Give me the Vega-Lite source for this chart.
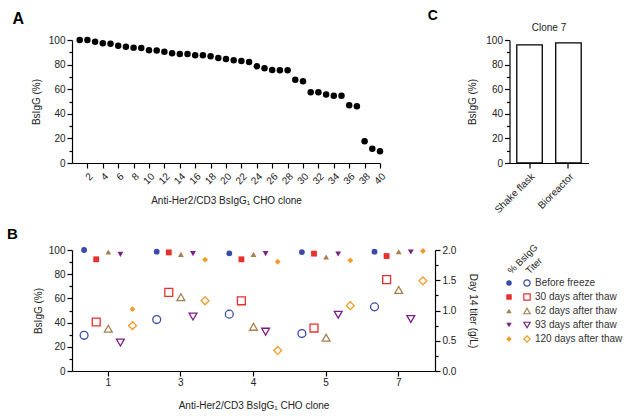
{
  "$schema": "https://vega.github.io/schema/vega-lite/v6.json",
  "background": "white",
  "padding": {"left": 7, "top": 9, "right": 5, "bottom": 5},
  "config": {
    "font": "Liberation Sans",
    "view": {"stroke": null},
    "axis": {
      "domainColor": "black", "domainWidth": 1.2, "tickColor": "black", "tickWidth": 1.2, "tickSize": 5,
      "labelFontSize": 10, "labelColor": "#222", "labelFont": "Liberation Sans",
      "titleFontSize": 10, "titleFontWeight": "normal", "titleColor": "#222", "titleFont": "Liberation Sans",
      "grid": false
    },
    "title": {"font": "Liberation Sans", "color": "black"}
  },
  "spacing": 11,
  "resolve": {"scale": {"xOffset": "independent"}},
  "vconcat": [
    {
      "spacing": 39.5,
      "hconcat": [
        {
          "title": {"text": "A", "anchor": "start", "fontSize": 16, "fontWeight": "bold", "dx": -18.7, "offset": 8},
          "width": 308,
          "height": 123,
          "data": {"values": [
            {"clone": 1, "bsigg": 100}, {"clone": 2, "bsigg": 100}, {"clone": 3, "bsigg": 98.6}, {"clone": 4, "bsigg": 97.3},
            {"clone": 5, "bsigg": 97}, {"clone": 6, "bsigg": 95.4}, {"clone": 7, "bsigg": 94.6}, {"clone": 8, "bsigg": 93.8},
            {"clone": 9, "bsigg": 93.5}, {"clone": 10, "bsigg": 91.6}, {"clone": 11, "bsigg": 91.4}, {"clone": 12, "bsigg": 90.5},
            {"clone": 13, "bsigg": 89.2}, {"clone": 14, "bsigg": 88.6}, {"clone": 15, "bsigg": 88.6}, {"clone": 16, "bsigg": 87.6},
            {"clone": 17, "bsigg": 87.6}, {"clone": 18, "bsigg": 86.8}, {"clone": 19, "bsigg": 85.4}, {"clone": 20, "bsigg": 84.6},
            {"clone": 21, "bsigg": 83.5}, {"clone": 22, "bsigg": 83}, {"clone": 23, "bsigg": 82.2}, {"clone": 24, "bsigg": 78.6},
            {"clone": 25, "bsigg": 77}, {"clone": 26, "bsigg": 75.7}, {"clone": 27, "bsigg": 75.4}, {"clone": 28, "bsigg": 75.4},
            {"clone": 29, "bsigg": 67.6}, {"clone": 30, "bsigg": 66.5}, {"clone": 31, "bsigg": 57.6}, {"clone": 32, "bsigg": 57.6},
            {"clone": 33, "bsigg": 55.7}, {"clone": 34, "bsigg": 54.6}, {"clone": 35, "bsigg": 54.6}, {"clone": 36, "bsigg": 47},
            {"clone": 37, "bsigg": 46.2}, {"clone": 38, "bsigg": 17.6}, {"clone": 39, "bsigg": 11.6}, {"clone": 40, "bsigg": 9.5}
          ]},
          "mark": {"type": "circle", "color": "black", "size": 42, "opacity": 1},
          "encoding": {
            "x": {"field": "clone", "type": "quantitative", "scale": {"domain": [0, 40], "nice": false},
              "axis": {"values": [2,4,6,8,10,12,14,16,18,20,22,24,26,28,30,32,34,36,38,40], "labelAngle": -45, "labelPadding": 3,
                "title": "Anti-Her2/CD3 BsIgG₁ CHO clone", "titlePadding": 10}},
            "y": {"field": "bsigg", "type": "quantitative", "scale": {"domain": [0, 100], "nice": false},
              "axis": {"values": [0,10,20,30,40,50,60,70,80,90,100], "labelExpr": "datum.value % 20 === 0 ? datum.label : ''",
                "tickSize": {"condition": {"test": "datum.value % 20 !== 0", "value": 3}, "value": 5},
                "title": "BsIgG (%)", "titlePadding": 7}}
          }
        },
        {
          "title": {"text": "C", "anchor": "start", "fontSize": 14, "fontWeight": "bold", "dx": -40, "offset": 0},
          "vconcat": [
            {
              "title": {"text": "Clone 7", "anchor": "middle", "fontSize": 10, "fontWeight": "normal", "color": "#222", "offset": 2},
              "width": 79,
              "height": 123,
              "data": {"values": [
                {"cond": "Shake flask", "bsigg": 96},
                {"cond": "Bioreactor", "bsigg": 97.6}
              ]},
              "mark": {"type": "bar", "fill": "white", "stroke": "black", "strokeWidth": 1.3, "width": 25.5},
              "encoding": {
                "x": {"field": "cond", "type": "nominal", "sort": ["Shake flask", "Bioreactor"],
                  "scale": {"paddingInner": 0.33, "paddingOuter": 0.18},
                  "axis": {"labelAngle": -45, "title": null, "labelPadding": 3}},
                "y": {"field": "bsigg", "type": "quantitative", "scale": {"domain": [0, 100], "nice": false},
                  "axis": {"values": [0,10,20,30,40,50,60,70,80,90,100], "labelExpr": "datum.value % 20 === 0 ? datum.label : ''",
                    "tickSize": {"condition": {"test": "datum.value % 20 !== 0", "value": 3}, "value": 5},
                    "title": "BsIgG (%)", "titlePadding": 8}}
              }
            }
          ]
        }
      ]
    },
    {
      "title": {"text": "B", "anchor": "start", "fontSize": 15, "fontWeight": "bold", "dx": -26.2, "offset": 0},
      "spacing": 27,
      "resolve": {"scale": {"xOffset": "independent"}},
      "hconcat": [
        {
          "width": 363,
          "height": 121,
          "data": {"values": [
            {"clone": "1", "series": "Before freeze", "pct": 100, "titer": 0.59},
            {"clone": "1", "series": "30 days after thaw", "pct": 92.3, "titer": 0.81},
            {"clone": "1", "series": "62 days after thaw", "pct": 98.3, "titer": 0.70},
            {"clone": "1", "series": "93 days after thaw", "pct": 96.4, "titer": 0.47},
            {"clone": "1", "series": "120 days after thaw", "pct": 51.1, "titer": 0.75},
            {"clone": "3", "series": "Before freeze", "pct": 98.6, "titer": 0.85},
            {"clone": "3", "series": "30 days after thaw", "pct": 98, "titer": 1.30},
            {"clone": "3", "series": "62 days after thaw", "pct": 96.4, "titer": 1.22},
            {"clone": "3", "series": "93 days after thaw", "pct": 97, "titer": 0.90},
            {"clone": "3", "series": "120 days after thaw", "pct": 92, "titer": 1.16},
            {"clone": "4", "series": "Before freeze", "pct": 97.2, "titer": 0.94},
            {"clone": "4", "series": "30 days after thaw", "pct": 92.3, "titer": 1.16},
            {"clone": "4", "series": "62 days after thaw", "pct": 96.4, "titer": 0.73},
            {"clone": "4", "series": "93 days after thaw", "pct": 97, "titer": 0.65},
            {"clone": "4", "series": "120 days after thaw", "pct": 90.3, "titer": 0.34},
            {"clone": "5", "series": "Before freeze", "pct": 98.3, "titer": 0.62},
            {"clone": "5", "series": "30 days after thaw", "pct": 97, "titer": 0.71},
            {"clone": "5", "series": "62 days after thaw", "pct": 94.2, "titer": 0.55},
            {"clone": "5", "series": "93 days after thaw", "pct": 96.7, "titer": 0.93},
            {"clone": "5", "series": "120 days after thaw", "pct": 91.4, "titer": 1.08},
            {"clone": "7", "series": "Before freeze", "pct": 98.6, "titer": 1.06},
            {"clone": "7", "series": "30 days after thaw", "pct": 95, "titer": 1.51},
            {"clone": "7", "series": "62 days after thaw", "pct": 98.6, "titer": 1.34},
            {"clone": "7", "series": "93 days after thaw", "pct": 98.3, "titer": 0.86},
            {"clone": "7", "series": "120 days after thaw", "pct": 99.2, "titer": 1.49}
          ]},
          "encoding": {
            "x": {"field": "clone", "type": "ordinal", "sort": ["1", "3", "4", "5", "7"],
              "scale": {"paddingInner": 0, "paddingOuter": 0},
              "axis": {"labelAngle": 0, "title": "Anti-Her2/CD3 BsIgG₁ CHO clone", "titlePadding": 13, "labelPadding": 1}},
            "xOffset": {"field": "series", "type": "nominal",
              "sort": ["Before freeze", "30 days after thaw", "62 days after thaw", "93 days after thaw", "120 days after thaw"],
              "scale": {"type": "point", "padding": 1.49}},
            "color": {"field": "series", "type": "nominal",
              "scale": {"domain": ["Before freeze", "30 days after thaw", "62 days after thaw", "93 days after thaw", "120 days after thaw"],
                "range": ["#3a4aa8", "#e8302c", "#a8804f", "#7a2088", "#f39a2a"]}, "legend": null},
            "shape": {"field": "series", "type": "nominal",
              "scale": {"domain": ["Before freeze", "30 days after thaw", "62 days after thaw", "93 days after thaw", "120 days after thaw"],
                "range": ["circle", "square", "triangle-up", "triangle-down", "diamond"]}, "legend": null}
          },
          "layer": [
            {
              "mark": {"type": "point", "filled": true, "size": 34, "opacity": 1},
              "encoding": {
                "y": {"field": "pct", "type": "quantitative", "scale": {"domain": [0, 100], "nice": false},
                  "axis": {"values": [0,10,20,30,40,50,60,70,80,90,100], "labelExpr": "datum.value % 20 === 0 ? datum.label : ''",
                    "tickSize": {"condition": {"test": "datum.value % 20 !== 0", "value": 3}, "value": 5},
                    "title": "BsIgG (%)", "titlePadding": 5}}
              }
            },
            {
              "mark": {"type": "point", "filled": false, "size": 62, "strokeWidth": 1.3, "opacity": 1},
              "encoding": {
                "y": {"field": "titer", "type": "quantitative", "scale": {"domain": [0, 2], "nice": false},
                  "axis": {"orient": "right", "values": [0,0.25,0.5,0.75,1,1.25,1.5,1.75,2], "format": ".1f",
                    "labelExpr": "(datum.value * 4) % 2 === 0 ? datum.label : ''",
                    "tickSize": {"condition": {"test": "(datum.value * 4) % 2 !== 0", "value": 3}, "value": 5},
                    "title": "Day 14 titer (g/L)", "titlePadding": 12}}
              }
            }
          ],
          "resolve": {"scale": {"y": "independent"}}
        },
        {
          "width": 18,
          "height": 122,
          "data": {"values": [
            {"series": "Before freeze", "label": "Before freeze"},
            {"series": "30 days after thaw", "label": "\u200730 days after thaw"},
            {"series": "62 days after thaw", "label": "\u200762 days after thaw"},
            {"series": "93 days after thaw", "label": "\u200793 days after thaw"},
            {"series": "120 days after thaw", "label": "120 days after thaw"}
          ]},
          "encoding": {
            "y": {"field": "series", "type": "nominal",
              "scale": {"type": "point", "range": [33, 89], "padding": 0,
                "domain": ["Before freeze", "30 days after thaw", "62 days after thaw", "93 days after thaw", "120 days after thaw"]},
              "axis": null},
            "color": {"field": "series", "type": "nominal",
              "scale": {"domain": ["Before freeze", "30 days after thaw", "62 days after thaw", "93 days after thaw", "120 days after thaw"],
                "range": ["#3a4aa8", "#e8302c", "#a8804f", "#7a2088", "#f39a2a"]}, "legend": null},
            "shape": {"field": "series", "type": "nominal",
              "scale": {"domain": ["Before freeze", "30 days after thaw", "62 days after thaw", "93 days after thaw", "120 days after thaw"],
                "range": ["circle", "square", "triangle-up", "triangle-down", "diamond"]}, "legend": null}
          },
          "layer": [
            {
              "mark": {"type": "point", "filled": true, "size": 30, "opacity": 1},
              "encoding": {
                "x": {"datum": "% BsIgG", "type": "nominal",
                  "scale": {"type": "point", "padding": 0, "domain": ["% BsIgG", "Titer"]},
                  "axis": {"orient": "top", "offset": -22, "labelAngle": -45, "domain": false, "ticks": false, "title": null,
                    "labelPadding": 0, "labelFontSize": 9.5, "labelAlign": "left", "labelBaseline": "middle"}}
              }
            },
            {
              "mark": {"type": "point", "filled": false, "size": 40, "strokeWidth": 1.2, "opacity": 1},
              "encoding": {"x": {"datum": "Titer", "type": "nominal"}}
            },
            {
              "mark": {"type": "text", "align": "left", "baseline": "middle", "dx": 8, "fontSize": 10, "color": "#333"},
              "encoding": {"x": {"datum": "Titer", "type": "nominal"}, "text": {"field": "label"}, "color": {"value": "#333"}}
            }
          ]
        }
      ]
    }
  ]
}
